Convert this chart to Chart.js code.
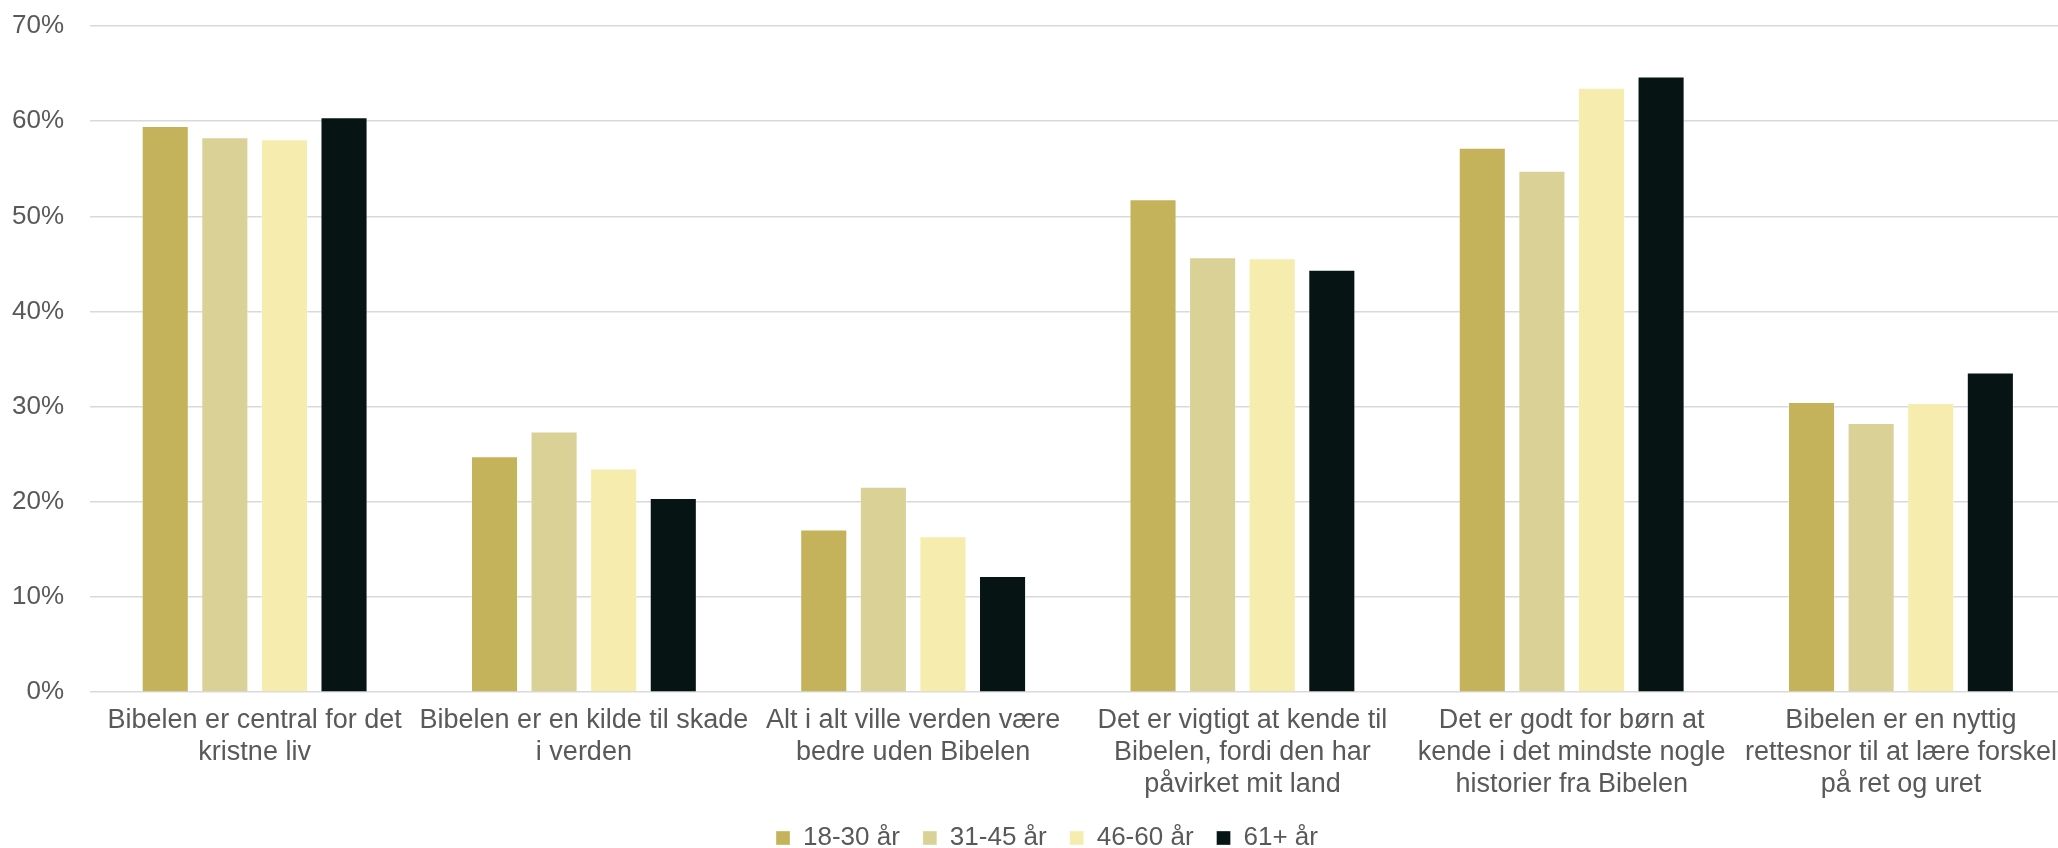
<!DOCTYPE html>
<html lang="da">
<head>
  <meta charset="UTF-8" />
  <title>Holdninger til Bibelen efter alder</title>
  <script src="https://cdn.jsdelivr.net/npm/chart.js"></script>
  <style>
    html, body {
      margin: 0;
      padding: 0;
      background: #ffffff;
      overflow: hidden;
    }
    #wrap {
      position: relative;
      width: 2070px;
      height: 848px;
    }
  </style>
</head>
<body>
  <div id="wrap">
    <canvas id="grafik"></canvas>
  </div>

  <script>
    const kategorier = [
      ["Bibelen er central for det", "kristne liv"],
      ["Bibelen er en kilde til skade", "i verden"],
      ["Alt i alt ville verden være", "bedre uden Bibelen"],
      ["Det er vigtigt at kende til", "Bibelen, fordi den har", "påvirket mit land"],
      ["Det er godt for børn at", "kende i det mindste nogle", "historier fra Bibelen"],
      ["Bibelen er en nyttig", "rettesnor til at lære forskel", "på ret og uret"]
    ];

    const aldersgrupper = ["18-30 år", "31-45 år", "46-60 år", "61+ år"];
    const farver = ["#C4B35A", "#DAD197", "#F6ECAE", "#061414"];

    // procent pr. udsagn
    const aar18_30 = [59.5, 24.8, 17.1, 51.8, 57.2, 30.5];
    const aar31_45 = [58.3, 27.4, 21.6, 45.7, 54.8, 28.3];
    const aar46_60 = [58.1, 23.5, 16.4, 45.6, 63.5, 30.4];
    const aar61 = [60.4, 20.4, 12.2, 44.4, 64.7, 33.6];

    const yTicks = [0, 10, 20, 30, 40, 50, 60, 70];

    const serier = [aar18_30, aar31_45, aar46_60, aar61];
    const tekstFarve = "#595959";
    const skrift = "'Liberation Sans', Arial, sans-serif";

    // forklaringen står lidt til højre for midten i originalen
    const flytForklaring = {
      id: "flytForklaring",
      afterLayout(chart) {
        chart.legend.left += 12;
        chart.legend.right += 12;
      }
    };

    new Chart(document.getElementById("grafik"), {
      type: "bar",
      data: {
        labels: kategorier,
        datasets: serier.map((data, i) => ({
          label: aldersgrupper[i],
          data,
          backgroundColor: farver[i],
          borderColor: "rgba(255,255,255,0.35)",
          borderWidth: 1,
          barPercentage: 0.79,
          categoryPercentage: 0.724
        }))
      },
      plugins: [flytForklaring],
      options: {
        responsive: true,
        maintainAspectRatio: false,
        animation: false,
        layout: { padding: { top: 26, bottom: -13, left: 0, right: 0 } },
        plugins: {
          legend: {
            position: "bottom",
            labels: {
              color: tekstFarve,
              boxWidth: 14,
              boxHeight: 14,
              padding: 23,
              font: { family: skrift, size: 26 }
            }
          },
          tooltip: { enabled: false }
        },
        scales: {
          x: {
            grid: { display: false, drawTicks: false },
            border: { display: false },
            afterFit: (scale) => { scale.height -= 11; },
            ticks: {
              color: tekstFarve,
              padding: 13,
              maxRotation: 0,
              autoSkip: false,
              font: { family: skrift, size: 27, lineHeight: 1.17 }
            }
          },
          y: {
            min: 0,
            max: 70,
            afterBuildTicks: (scale) => {
              scale.ticks = yTicks.map(v => ({ value: v }));
            },
            afterFit: (scale) => {
              scale.width = 90;
              scale.paddingTop = 0;
              scale.paddingBottom = 0;
            },
            grid: { color: "#D9D9D9", lineWidth: 1.5, drawTicks: false },
            border: { display: false },
            ticks: {
              color: tekstFarve,
              padding: 26,
              font: { family: skrift, size: 26 },
              callback: (v) => v + "%"
            }
          }
        }
      }
    });
  </script>
</body>
</html>
